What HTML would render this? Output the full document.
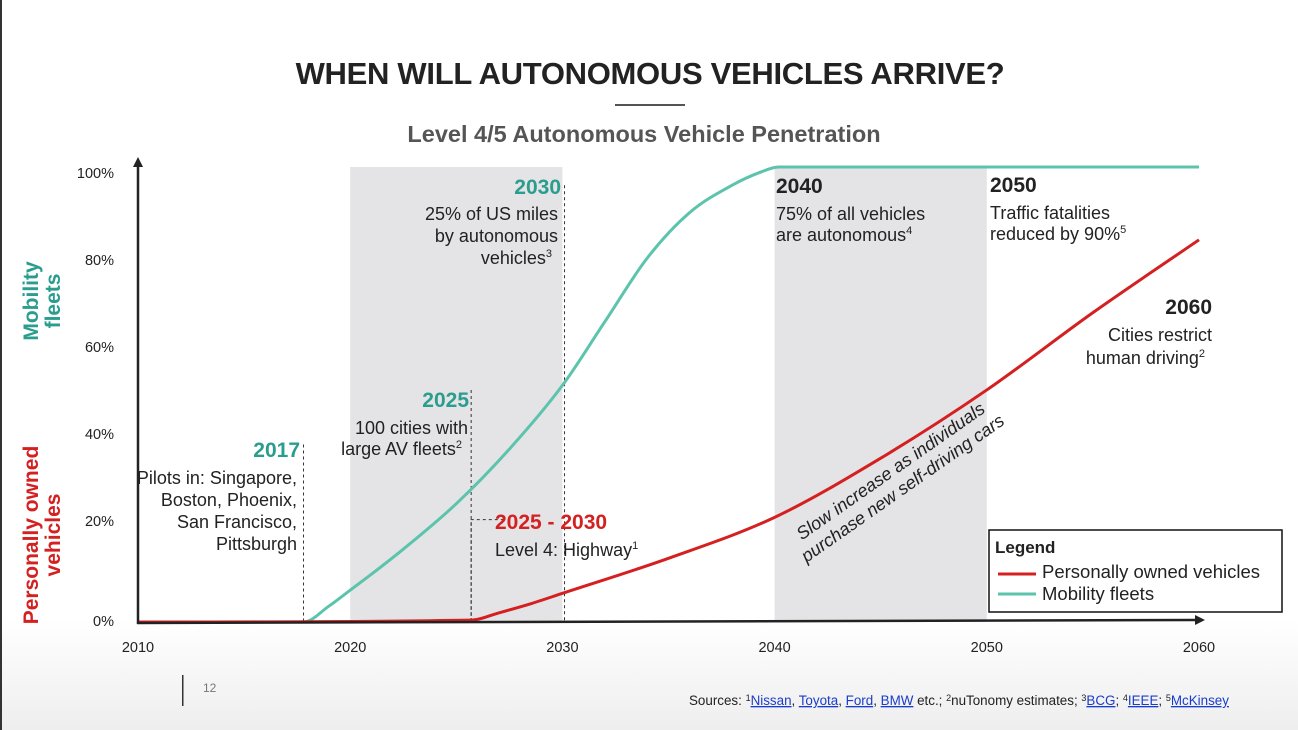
<!DOCTYPE html>
<html><head><meta charset="utf-8"><style>
body{margin:0;width:1298px;height:730px;overflow:hidden;background:linear-gradient(#fff 0,#fff 620px,#eeeeee 730px);font-family:"Liberation Sans",Arial,sans-serif;}
svg{position:absolute;left:0;top:0}
</style></head><body>
<svg width="1298" height="730">
<rect x="0" y="0" width="2" height="730" fill="#333"/>
<text x="650" y="84" text-anchor="middle" font-size="31" font-weight="bold" fill="#222" letter-spacing="-0.3">WHEN WILL AUTONOMOUS VEHICLES ARRIVE?</text>
<rect x="615" y="104" width="70" height="2" fill="#555"/>
<text x="644" y="142" text-anchor="middle" font-size="23.5" font-weight="bold" fill="#555">Level 4/5 Autonomous Vehicle Penetration</text>
<g id="plot"></g>
<g font-size="18" fill="#222">
<text x="561" y="194" text-anchor="end" font-weight="bold" font-size="21" fill="#2a9d8f">2030</text>
<text text-anchor="end"><tspan x="558" y="220">25% of US miles</tspan><tspan x="558" dy="22">by autonomous</tspan><tspan x="552" dy="22">vehicles</tspan><tspan font-size="11" dy="-7">3</tspan></text>
<text x="469" y="407" text-anchor="end" font-weight="bold" font-size="21" fill="#2a9d8f">2025</text>
<text text-anchor="end"><tspan x="468" y="434">100 cities with</tspan><tspan x="462" dy="21">large AV fleets</tspan><tspan font-size="11" dy="-7">2</tspan></text>
<text x="300" y="457" text-anchor="end" font-weight="bold" font-size="21" fill="#2a9d8f">2017</text>
<text text-anchor="end"><tspan x="297" y="484">Pilots in: Singapore,</tspan><tspan x="297" dy="22">Boston, Phoenix,</tspan><tspan x="297" dy="22">San Francisco,</tspan><tspan x="297" dy="22">Pittsburgh</tspan></text>
<text x="495" y="529" font-weight="bold" font-size="21" fill="#d42020">2025 - 2030</text>
<text x="495" y="556">Level 4: Highway<tspan font-size="11" dy="-7">1</tspan></text>
<text x="776" y="193" font-weight="bold" font-size="21">2040</text>
<text><tspan x="776" y="220">75% of all vehicles</tspan><tspan x="776" dy="21">are autonomous</tspan><tspan font-size="11" dy="-7">4</tspan></text>
<text x="990" y="192" font-weight="bold" font-size="21">2050</text>
<text><tspan x="990" y="219">Traffic fatalities</tspan><tspan x="990" dy="21">reduced by 90%</tspan><tspan font-size="11" dy="-7">5</tspan></text>
<text x="1212" y="314" text-anchor="end" font-weight="bold" font-size="21">2060</text>
<text text-anchor="end"><tspan x="1212" y="341">Cities restrict</tspan><tspan x="1205" dy="23">human driving</tspan><tspan font-size="11" dy="-7">2</tspan></text>
<g transform="translate(894,476) rotate(-35)" font-style="italic" text-anchor="middle"><text x="0" y="0">Slow increase as individuals</text><text x="0" y="21">purchase new self-driving cars</text></g>
<text transform="translate(38,301) rotate(-90)" text-anchor="middle" font-size="21" font-weight="bold" fill="#2a9d8f"><tspan x="0" y="0">Mobility</tspan><tspan x="0" dy="22">fleets</tspan></text>
<text transform="translate(38,535) rotate(-90)" text-anchor="middle" font-size="21" font-weight="bold" fill="#d42020"><tspan x="0" y="0">Personally owned</tspan><tspan x="0" dy="22">vehicles</tspan></text>
</g>
<g>
<rect x="989" y="530" width="293" height="82" fill="#fff" stroke="#111" stroke-width="1.5"/>
<text x="995" y="553" font-size="17" font-weight="bold" fill="#222">Legend</text>
<line x1="998" y1="574" x2="1036" y2="574" stroke="#d42020" stroke-width="3"/>
<text x="1042" y="578" font-size="18.5" fill="#222">Personally owned vehicles</text>
<line x1="998" y1="594" x2="1036" y2="594" stroke="#5cc3ad" stroke-width="3"/>
<text x="1042" y="600" font-size="18.5" fill="#222">Mobility fleets</text>
</g>
<rect x="182" y="675" width="1.5" height="31" fill="#333"/>
<text x="203" y="692" font-size="12" fill="#777">12</text>
<text x="689" y="705" font-size="13.4" fill="#222">Sources: <tspan font-size="9" dy="-4">1</tspan><tspan dy="4" fill="#1a3ccc" text-decoration="underline">Nissan</tspan>, <tspan fill="#1a3ccc" text-decoration="underline">Toyota</tspan>, <tspan fill="#1a3ccc" text-decoration="underline">Ford</tspan>, <tspan fill="#1a3ccc" text-decoration="underline">BMW</tspan> etc.; <tspan font-size="9" dy="-4">2</tspan><tspan dy="4">nuTonomy estimates; </tspan><tspan font-size="9" dy="-4">3</tspan><tspan dy="4" fill="#1a3ccc" text-decoration="underline">BCG</tspan>; <tspan font-size="9" dy="-4">4</tspan><tspan dy="4" fill="#1a3ccc" text-decoration="underline">IEEE</tspan>; <tspan font-size="9" dy="-4">5</tspan><tspan dy="4" fill="#1a3ccc" text-decoration="underline">McKinsey</tspan></text>
</svg>
<script>
const xTicks=[2010,2020,2030,2040,2050,2060];
const yTicks=[0,20,40,60,80,100];
const yTickLabels=["0%","20%","40%","60%","80%","100%"];
const shadeRanges=[[2020,2030],[2040,2050]];
const mobilityYears=[2010,2017.8,2019,2020,2021,2022.5,2025,2027.5,2030,2032,2034,2036,2038,2039.3,2040.2,2060];
const mobilityValues=[0,0,3.5,7,10.5,16,26,38,52,66,80,90,96,98.8,100,100];
const personalYears=[2010,2025.7,2027,2028.5,2030,2035,2040,2045,2050,2055,2060];
const personalValues=[0,0.4,2,4,6.3,14,23,36,51,68,84];
const markerYears=[2017.8,2025.7,2030.1];
const markerTops=[39,51,96];
const NS="http://www.w3.org/2000/svg";
const X=y=>138+(y-2010)*21.22;
const Y=v=>622-v*4.55;
const g=document.getElementById('plot');
function mk(t,a){const e=document.createElementNS(NS,t);for(const k in a)e.setAttribute(k,a[k]);g.appendChild(e);return e;}
shadeRanges.forEach((r,i)=>{const e=mk('rect',{x:X(r[0]),y:Y(100),width:X(r[1])-X(r[0]),height:Y(0)-Y(100),fill:'#e4e4e6'});

});
markerYears.forEach((yr,i)=>{const e=mk('line',{x1:X(yr),x2:X(yr),y1:Y(markerTops[i]),y2:Y(0),stroke:'#333','stroke-width':1,'stroke-dasharray':'3,3'});

});
const h=mk('polyline',{points:`${X(2025.7)},${Y(0)} ${X(2025.7)},${Y(22.5)} ${X(2027.3)},${Y(22.5)}`,fill:'none',stroke:'#333','stroke-dasharray':'3,3'});


function path(xs,vs){
  const n=xs.length,px=xs.map(X),py=vs.map(Y);
  const d=[],m=new Array(n);
  for(let i=0;i<n-1;i++)d.push((py[i+1]-py[i])/(px[i+1]-px[i]));
  m[0]=d[0];m[n-1]=d[n-2];
  for(let i=1;i<n-1;i++){m[i]=(d[i-1]*d[i]<=0)?0:(d[i-1]+d[i])/2;}
  for(let i=0;i<n-1;i++){if(d[i]===0){m[i]=0;m[i+1]=0;continue;}const a=m[i]/d[i],b=m[i+1]/d[i],s=a*a+b*b;if(s>9){const t=3/Math.sqrt(s);m[i]=t*a*d[i];m[i+1]=t*b*d[i];}}
  let s=`M${px[0]},${py[0]}`;
  for(let i=0;i<n-1;i++){const h=(px[i+1]-px[i])/3;s+=` C${px[i]+h},${py[i]+m[i]*h} ${px[i+1]-h},${py[i+1]-m[i+1]*h} ${px[i+1]},${py[i+1]}`;}
  return s;}
const pm=mk('path',{d:path(mobilityYears,mobilityValues),fill:'none',stroke:'#5cc3ad','stroke-width':3});


const pp=mk('path',{d:path(personalYears,personalValues),fill:'none',stroke:'#d42020','stroke-width':3});


const ya=mk('line',{x1:138,y1:Y(0)+2,x2:138,y2:Y(100)-2,stroke:'#222','stroke-width':2.5});


const yarr=mk('polygon',{points:`133,${Y(100)} 143,${Y(100)} 138,${Y(100)-10}`,fill:'#222'});


const xa=mk('line',{x1:137,y1:623,x2:1195,y2:620,stroke:'#222','stroke-width':2.5});


const xarr=mk('polygon',{points:`1195,615 1195,625 1205,620`,fill:'#222'});


xTicks.forEach(t=>{const e=mk('text',{x:X(t),y:652,'text-anchor':'middle','font-size':14.5,fill:'#222'});e.textContent=t;

});
yTicks.forEach((t,i)=>{const cy=t===0?621:173+(100-t)*4.35;const e=mk('text',{x:114,y:cy+5,'text-anchor':'end','font-size':14.5,fill:'#222'});e.textContent=yTickLabels[i];

});
</script>
</body></html>
